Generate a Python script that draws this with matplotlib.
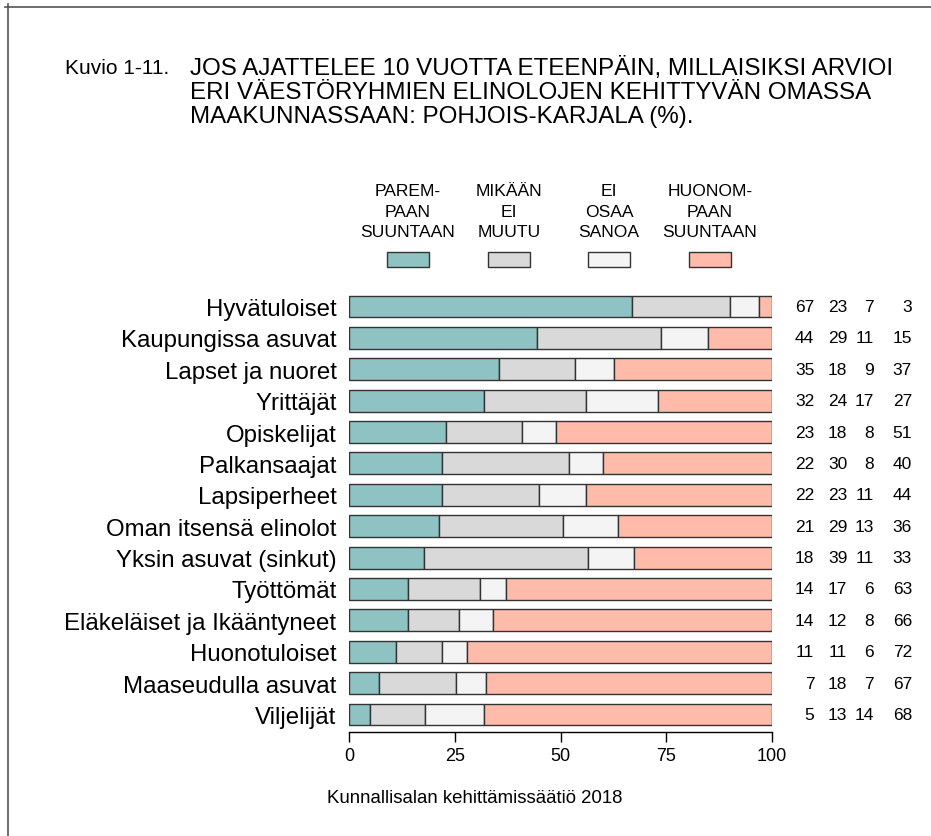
import matplotlib
matplotlib.use("Agg")
import matplotlib.pyplot as plt
from matplotlib.patches import Rectangle
from matplotlib.lines import Line2D
import numpy as np

plt.rcParams['font.family'] = ['Liberation Sans', 'DejaVu Sans']

# ---- data
ryhmat = ["Hyvätuloiset", "Kaupungissa asuvat", "Lapset ja nuoret", "Yrittäjät",
          "Opiskelijat", "Palkansaajat", "Lapsiperheet", "Oman itsensä elinolot",
          "Yksin asuvat (sinkut)", "Työttömät", "Eläkeläiset ja Ikääntyneet",
          "Huonotuloiset", "Maaseudulla asuvat", "Viljelijät"]
paremp = [67, 44, 35, 32, 23, 22, 22, 21, 18, 14, 14, 11, 7, 5]
ei_muutu = [23, 29, 18, 24, 18, 30, 23, 29, 39, 17, 12, 11, 18, 13]
ei_osaa = [7, 11, 9, 17, 8, 8, 11, 13, 11, 6, 8, 6, 7, 14]
huonomp = [3, 15, 37, 27, 51, 40, 44, 36, 33, 63, 66, 72, 67, 68]

otsikot = ["PAREM-\nPAAN\nSUUNTAAN", "MIKÄÄN\nEI\nMUUTU", "EI\nOSAA\nSANOA",
           "HUONOM-\nPAAN\nSUUNTAAN"]
varit = ["#8FC3C3", "#D9D9D9", "#F4F4F4", "#FFBBAA"]

W, H = 931, 837
fig = plt.figure(figsize=(W / 100, H / 100), dpi=100)


def fx(px):
    return px / W


def fy(py):
    return 1 - py / H


# reunaviivat (ylä ja vasen)
fig.add_artist(Line2D([fx(5), 1], [fy(8), fy(8)], color="#555555", lw=1.2))
fig.add_artist(Line2D([fx(8), fx(8)], [fy(5), 0], color="#555555", lw=1.2))

# otsikko
fig.text(fx(65), fy(69), "Kuvio 1-11.", fontsize=15.0, va="center", ha="left")
rivit = ["JOS AJATTELEE 10 VUOTTA ETEENPÄIN, MILLAISIKSI ARVIOI",
         "ERI VÄESTÖRYHMIEN ELINOLOJEN KEHITTYVÄN OMASSA",
         "MAAKUNNASSAAN: POHJOIS-KARJALA (%)."]
for i, r in enumerate(rivit):
    fig.text(fx(190), fy(69 + i * 24), r, fontsize=17.4, va="center", ha="left")

# selite
selite_x = [408, 509, 609, 710]
for x, t, c in zip(selite_x, otsikot, varit):
    for j, osa in enumerate(t.split("\n")):
        fig.text(fx(x), fy(192 + j * 20.5), osa, fontsize=12.6, ha="center", va="center")
    fig.add_artist(Rectangle((fx(x - 21), fy(268)), fx(42), 15 / H,
                             facecolor=c, edgecolor="#333333", lw=1.0))

# pylväät
ax = fig.add_axes([fx(349), fy(733), fx(423), (733 - 291.8) / H])
data = np.array([paremp, ei_muutu, ei_osaa, huonomp], dtype=float)
osuus = data / data.sum(axis=0) * 100
y = np.arange(len(ryhmat))
vasen = np.zeros(len(ryhmat))
for k in range(4):
    ax.barh(y, osuus[k], left=vasen, height=0.7, color=varit[k],
            edgecolor="#333333", linewidth=1.0)
    vasen += osuus[k]

ax.set_xlim(0, 100)
ax.set_ylim(13 + (733 - 715.5) / 31.4, -0.5)
ax.set_yticks(y)
ax.set_yticklabels(ryhmat, fontsize=17.3)
ax.tick_params(axis="y", length=0, pad=9)
ax.set_xticks([0, 25, 50, 75, 100])
ax.tick_params(axis="x", length=7.5, width=1, labelsize=13, pad=3)
for s in ["top", "right", "left"]:
    ax.spines[s].set_visible(False)
ax.spines["bottom"].set_linewidth(1)

# luvut oikealla
sarakkeet = [110.0, 117.8, 124.1, 133.1]
for k, sarja in enumerate([paremp, ei_muutu, ei_osaa, huonomp]):
    for i, v in enumerate(sarja):
        ax.text(sarakkeet[k], i, str(v), fontsize=12.5, ha="right", va="center",
                clip_on=False)

fig.text(fx(475), fy(799), "Kunnallisalan kehittämissäätiö 2018", fontsize=13.4,
         ha="center", va="center")

fig.savefig("out.png", dpi=100)
